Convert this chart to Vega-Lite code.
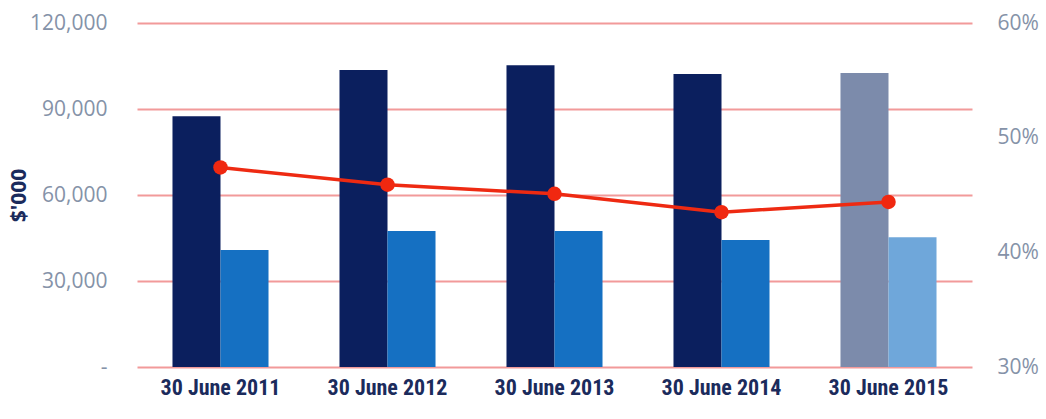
{
  "$schema": "https://vega.github.io/schema/vega-lite/v6.json",
  "width": 835,
  "height": 344,
  "autosize": {"type": "none"},
  "padding": {"left": 137, "top": 23, "right": 74, "bottom": 52},
  "background": "white",
  "config": {"view": {"stroke": null}},
  "datasets": {
    "bars": [
      {"year": "30 June 2011", "metric": "A", "kind": "dark", "value": 87500},
      {"year": "30 June 2011", "metric": "B", "kind": "light", "value": 40800},
      {"year": "30 June 2012", "metric": "A", "kind": "dark", "value": 103600},
      {"year": "30 June 2012", "metric": "B", "kind": "light", "value": 47400},
      {"year": "30 June 2013", "metric": "A", "kind": "dark", "value": 105300},
      {"year": "30 June 2013", "metric": "B", "kind": "light", "value": 47400},
      {"year": "30 June 2014", "metric": "A", "kind": "dark", "value": 102200},
      {"year": "30 June 2014", "metric": "B", "kind": "light", "value": 44300},
      {"year": "30 June 2015", "metric": "A", "kind": "darkForecast", "value": 102600},
      {"year": "30 June 2015", "metric": "B", "kind": "lightForecast", "value": 45300}
    ],
    "ratio": [
      {"year": "30 June 2011", "pct": 0.474},
      {"year": "30 June 2012", "pct": 0.459},
      {"year": "30 June 2013", "pct": 0.451},
      {"year": "30 June 2014", "pct": 0.435},
      {"year": "30 June 2015", "pct": 0.444}
    ]
  },
  "encoding": {
    "x": {
      "field": "year",
      "type": "nominal",
      "sort": null,
      "scale": {"paddingInner": 0.425, "paddingOuter": 0.2125},
      "axis": {
        "title": null,
        "domain": false,
        "ticks": false,
        "labelAngle": 0,
        "labelFont": "Liberation Sans Narrow, Roboto Condensed, Arial Narrow, sans-serif",
        "labelFontWeight": "bold",
        "labelFontSize": 22,
        "labelColor": "#1b2b5c",
        "labelPadding": 10
      }
    }
  },
  "layer": [
    {
      "data": {"name": "bars"},
      "mark": {"type": "bar"},
      "encoding": {
        "xOffset": {"field": "metric", "type": "nominal", "scale": {"paddingInner": 0, "paddingOuter": 0}},
        "y": {
          "field": "value",
          "type": "quantitative",
          "scale": {"domain": [0, 120000], "nice": false},
          "axis": {
            "values": [0, 30000, 60000, 90000, 120000],
            "labelExpr": "datum.value == 0 ? '-' : format(datum.value, ',')",
            "domain": false,
            "ticks": false,
            "grid": true,
            "gridColor": "#f29a9a",
            "gridWidth": 2,
            "labelPadding": 30,
            "labelFont": "Open Sans",
            "labelFontSize": 21,
            "labelColor": "#8592a8",
            "title": "$'000",
            "titleFont": "Open Sans",
            "titleFontWeight": "bold",
            "titleFontSize": 21,
            "titleColor": "#1b2b5c",
            "titleAngle": -90,
            "titleX": -108,
            "titleY": 172,
            "titleBaseline": "bottom",
            "titleAlign": "center"
          }
        },
        "color": {
          "field": "kind",
          "type": "nominal",
          "scale": {
            "domain": ["dark", "light", "darkForecast", "lightForecast"],
            "range": ["#0b1f5e", "#1570c2", "#7c8bab", "#6fa7da"]
          },
          "legend": null
        }
      }
    },
    {
      "data": {"name": "ratio"},
      "mark": {"type": "line", "color": "#ee2a12", "strokeWidth": 3.5},
      "encoding": {
        "y": {
          "field": "pct",
          "type": "quantitative",
          "scale": {"domain": [0.3, 0.6], "nice": false},
          "axis": {
            "orient": "right",
            "values": [0.3, 0.4, 0.5, 0.6],
            "format": ".0%",
            "domain": false,
            "ticks": false,
            "grid": false,
            "labelPadding": 25,
            "labelFont": "Open Sans",
            "labelFontSize": 21,
            "labelColor": "#8592a8",
            "title": null
          }
        }
      }
    },
    {
      "data": {"name": "ratio"},
      "mark": {"type": "point", "filled": true, "color": "#f02810", "opacity": 1, "size": 210},
      "encoding": {
        "y": {"field": "pct", "type": "quantitative", "scale": {"domain": [0.3, 0.6], "nice": false}, "axis": null}
      }
    }
  ],
  "resolve": {"scale": {"y": "independent"}}
}
